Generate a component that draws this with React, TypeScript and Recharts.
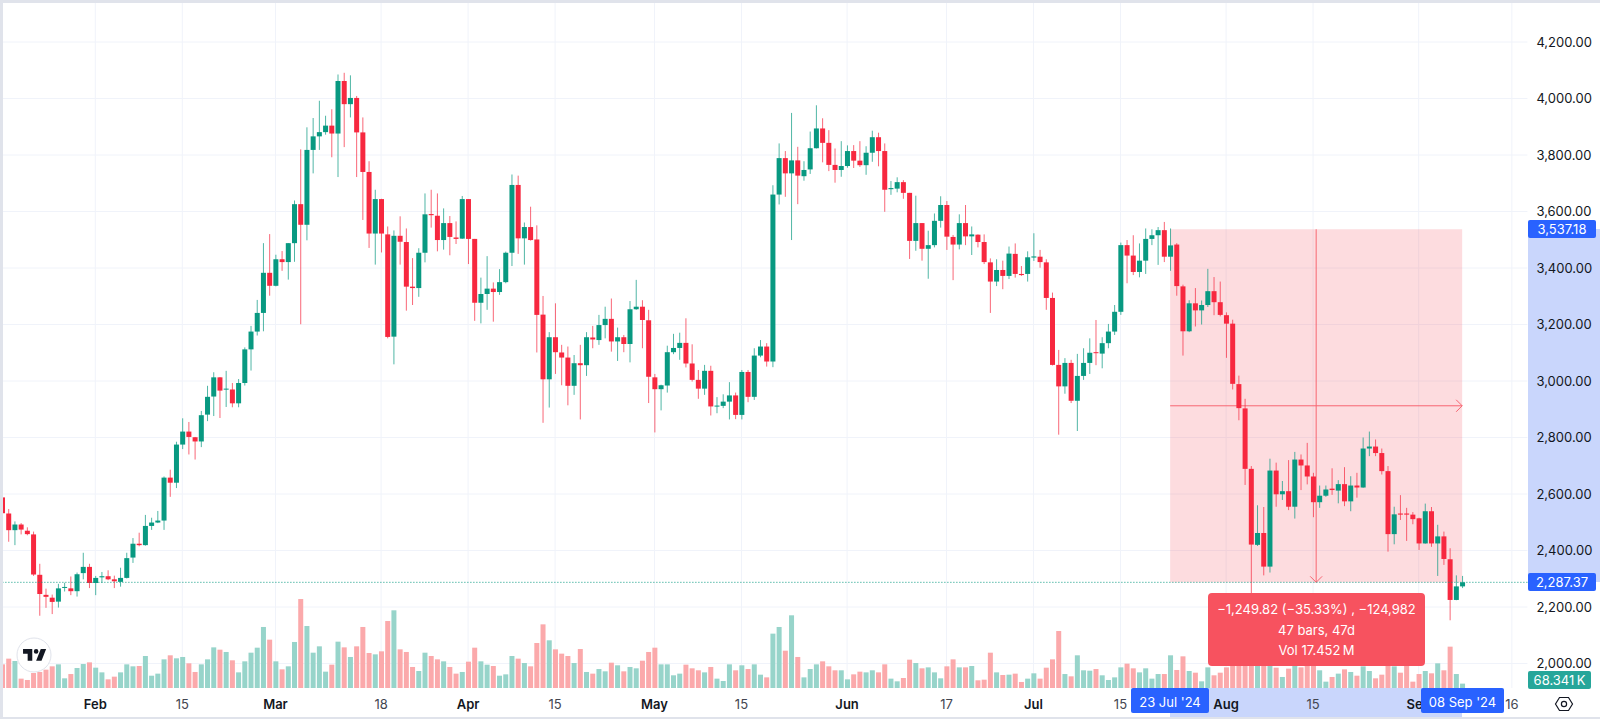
import { Bar, CartesianGrid, ComposedChart, ReferenceArea, ReferenceLine, XAxis, YAxis } from "recharts";

const opens = [
  2588,2531,2472,2492,2470,2457,2314,2243,2233,2219,2269,2266,2256,2320,2342,2285,2305,2309,2298,2289,
  2303,2375,2424,2419,2487,2499,2506,2658,2640,2775,2821,2801,2786,2881,2945,3013,2970,2970,2921,2993,
  3112,3175,3241,3383,3337,3431,3421,3488,3626,3553,3818,3866,3881,3904,3876,4062,3980,4002,3880,3740,
  3522,3644,3519,3157,3514,3492,3334,3329,3454,3591,3585,3499,3559,3508,3504,3644,3503,3277,3308,3327,
  3315,3350,3454,3694,3505,3545,3501,3235,3006,3155,3101,3083,2983,3063,3056,3154,3145,3198,3220,3140,
  3155,3131,3254,3263,3215,3013,2971,2984,3102,3117,3135,3062,3004,2973,3036,2910,2912,2927,2949,2880,
  3032,2944,3090,3122,3069,3660,3789,3735,3781,3725,3749,3824,3894,3843,3765,3747,3761,3814,3780,3764,
  3808,3863,3814,3679,3681,3704,3666,3496,3559,3468,3481,3567,3623,3510,3483,3559,3512,3518,3492,3420,
  3352,3393,3372,3450,3379,3379,3437,3440,3420,3294,3057,2981,3064,2930,3018,3064,3102,3097,3134,3175,
  3245,3481,3444,3386,3426,3503,3516,3534,3440,3483,3335,3176,3275,3250,3269,3318,3279,3233,3203,2989,
  2903,2689,2420,2462,2343,2683,2599,2610,2555,2722,2701,2662,2571,2594,2619,2612,2635,2574,2630,2623,
  2761,2768,2745,2681,2458,2531,2531,2527,2514,2425,2539,2425,2450,2369,2225,2273,
];
const closes = [
  2532,2472,2492,2474,2458,2315,2246,2236,2218,2266,2271,2256,2316,2342,2285,2303,2309,2298,2291,2303,
  2373,2424,2419,2487,2499,2506,2658,2640,2775,2821,2802,2786,2879,2944,3013,2966,2973,2921,2993,3112,
  3175,3241,3383,3337,3431,3421,3488,3626,3553,3818,3866,3881,3904,3876,4062,3980,4002,3880,3740,3522,
  3644,3522,3156,3514,3493,3334,3329,3454,3590,3587,3499,3559,3510,3503,3644,3503,3277,3308,3327,3315,
  3350,3454,3694,3505,3545,3499,3234,3006,3155,3102,3083,2983,3063,3056,3155,3147,3198,3220,3140,3155,
  3131,3254,3263,3216,3015,2971,2985,3102,3117,3135,3062,3004,2973,3036,2910,2913,2927,2949,2880,3032,
  2944,3090,3122,3069,3660,3789,3735,3781,3727,3747,3824,3894,3843,3765,3747,3761,3814,3780,3764,3808,
  3863,3814,3677,3683,3704,3666,3496,3559,3468,3481,3567,3623,3511,3483,3559,3512,3519,3492,3421,3352,
  3393,3372,3451,3379,3375,3438,3441,3421,3294,3057,2981,3064,2930,3018,3064,3100,3100,3134,3175,3245,
  3481,3444,3386,3426,3503,3516,3534,3440,3480,3336,3176,3275,3250,3269,3318,3279,3234,3203,2990,2904,
  2689,2421,2462,2343,2683,2599,2610,2555,2722,2701,2662,2571,2594,2616,2614,2635,2574,2630,2623,2761,
  2768,2745,2681,2458,2528,2527,2527,2511,2425,2539,2425,2450,2370,2225,2273,2287.37,
];
const highs = [
  2595,2547,2503,2497,2482,2467,2353,2265,2244,2282,2286,2308,2322,2392,2353,2310,2324,2330,2311,2339,
  2392,2444,2463,2526,2516,2540,2662,2686,2785,2868,2855,2802,2894,2983,3031,3014,3036,2993,3007,3119,
  3195,3287,3488,3520,3447,3460,3488,3639,3820,3898,3931,3992,3939,3962,4085,4091,4082,4009,3933,3778,
  3677,3645,3547,3533,3583,3540,3435,3470,3664,3677,3664,3611,3584,3565,3655,3644,3503,3366,3442,3349,
  3396,3458,3731,3727,3561,3617,3551,3301,3173,3275,3128,3122,3092,3128,3173,3195,3234,3263,3292,3189,
  3163,3283,3358,3286,3252,3025,2987,3125,3167,3171,3222,3130,3039,3057,3054,2943,2953,2996,2959,3039,
  3039,3116,3145,3134,3693,3841,3814,3949,3829,3778,3883,3976,3930,3888,3823,3849,3834,3835,3849,3831,
  3886,3879,3841,3708,3721,3711,3666,3656,3559,3532,3593,3654,3637,3517,3590,3623,3547,3519,3519,3434,
  3431,3426,3476,3487,3407,3459,3523,3464,3431,3313,3110,3081,3075,3096,3116,3151,3216,3155,3202,3269,
  3490,3499,3516,3487,3540,3537,3545,3563,3540,3488,3341,3286,3329,3285,3397,3368,3352,3243,3217,3019,
  2937,2699,2560,2554,2725,2711,2646,2720,2749,2740,2781,2675,2630,2630,2691,2649,2695,2663,2675,2800,
  2821,2793,2761,2699,2555,2596,2551,2536,2516,2566,2554,2491,2467,2408,2312,2310,
];
const lows = [
  2530,2431,2419,2457,2454,2310,2169,2197,2175,2198,2255,2242,2237,2298,2267,2242,2285,2295,2267,2272,
  2301,2356,2415,2417,2473,2497,2473,2590,2621,2759,2740,2722,2766,2858,2876,2869,2908,2907,2907,2984,
  3037,3161,3176,3302,3335,3390,3359,3422,3201,3498,3735,3818,3872,3792,3722,3828,3933,3722,3570,3471,
  3412,3455,3151,3059,3412,3249,3269,3298,3420,3543,3459,3465,3445,3485,3503,3414,3213,3204,3252,3210,
  3305,3346,3407,3450,3412,3497,3101,2852,2906,3025,2985,2914,2951,2864,3018,3116,3128,3151,3104,3071,
  3102,3066,3252,3116,2922,2818,2896,2959,3095,3075,3048,2998,2937,2951,2878,2886,2904,2864,2865,2864,
  2925,2933,3084,3051,3049,3625,3652,3499,3626,3709,3733,3823,3774,3743,3702,3723,3755,3754,3758,3730,
  3776,3760,3599,3659,3668,3645,3432,3461,3426,3362,3473,3543,3464,3357,3466,3481,3446,3473,3414,3241,
  3336,3325,3361,3366,3372,3352,3425,3401,3252,3055,2810,2955,2922,2823,3004,3025,3056,3045,3116,3163,
  3234,3346,3375,3367,3379,3481,3411,3421,3390,3302,3090,3173,3193,3200,3262,3233,3229,3082,2970,2861,
  2632,2130,2416,2312,2322,2555,2579,2543,2513,2614,2634,2518,2551,2590,2597,2567,2557,2539,2587,2622,
  2734,2734,2669,2396,2422,2508,2434,2493,2402,2424,2413,2310,2349,2153,2224,2267,
];
// volume in thousands
const volumes = [
  369,458,421,146,125,234,250,286,338,369,151,218,312,374,400,317,244,135,177,244,
  369,338,343,499,192,224,447,510,463,484,385,250,369,447,634,598,562,432,244,416,
  551,629,952,754,416,291,338,718,1388,967,551,650,255,364,723,634,484,650,952,546,
  525,572,1045,1212,603,562,328,265,551,499,447,416,328,224,250,411,629,416,364,343,
  192,213,499,458,390,338,702,993,744,603,536,499,390,608,250,224,296,260,395,354,
  260,328,307,426,562,629,369,369,198,224,364,307,276,244,328,146,109,369,276,354,
  296,369,208,166,848,952,582,1134,484,166,296,369,416,338,276,276,135,213,255,244,
  276,244,369,146,104,156,442,390,307,322,244,151,338,447,322,322,343,120,130,551,
  244,203,208,224,94,146,229,146,317,447,889,218,182,510,276,270,296,198,125,166,
  322,380,307,244,307,146,218,218,510,281,494,265,239,104,322,198,239,322,354,432,
  458,1400,343,380,354,317,172,302,354,322,354,354,276,99,172,224,291,250,192,338,
  265,151,208,406,338,239,354,99,218,265,229,385,276,645,218,68.341,
];
const priceTicks = [2000, 2200, 2400, 2600, 2800, 3000, 3200, 3400, 3600, 3800, 4000, 4200];
const dateTicks = ["2024-02-01", "2024-02-15", "2024-03-01", "2024-03-18", "2024-04-01", "2024-04-15", "2024-05-01", "2024-05-15", "2024-06-01", "2024-06-17", "2024-07-01", "2024-07-15", "2024-08-01", "2024-08-15", "2024-09-01", "2024-09-16"];
const dateTickLabels = ["Feb", "15", "Mar", "18", "Apr", "15", "May", "15", "Jun", "17", "Jul", "15", "Aug", "15", "Sep", "16"];

const measureStart = "2024-07-23";
const measureEnd = "2024-09-08";
const measureTop = 3537.18;
const lastPrice = 2287.37;

const UP = "#089981";
const DOWN = "#f7283f";
const FONT = "Inter, sans-serif";
const BAND = 6.213;
const EMPTY_DAYS = 10;

// one row per day, plus a few empty days on the right of the last bar
const dayStart = Date.UTC(2024, 0, 17);
const rows = Array.from({ length: opens.length + EMPTY_DAYS }, (_, i) => ({
  date: new Date(dayStart + i * 86400000).toISOString().slice(0, 10),
  open: opens[i],
  high: highs[i],
  low: lows[i],
  close: closes[i],
  volume: volumes[i],
}));

function Candle(props: any) {
  const { x, y, width, height, payload } = props;
  if (payload.open == null || !height) return null;
  const top = Math.min(y, y + height);
  const h = Math.abs(height);
  const perUnit = h / (payload.high - payload.low);
  const up = payload.close >= payload.open;
  const color = up ? UP : DOWN;
  const bodyTop = top + (payload.high - Math.max(payload.open, payload.close)) * perUnit;
  const bodyH = Math.max(Math.abs(payload.close - payload.open) * perUnit, 1);
  const cx = x + width / 2;
  return (
    <g>
      <line x1={cx} x2={cx} y1={top} y2={top + h} stroke={color} strokeWidth={1} opacity={0.7} />
      <rect x={x} y={bodyTop} width={width} height={bodyH} fill={color} />
    </g>
  );
}

function VolumeBar(props: any) {
  const { x, y, width, height, payload } = props;
  if (payload.open == null) return null;
  const fill = payload.close >= payload.open ? "#97d4ca" : "#fba9ab";
  return <rect x={x} y={y} width={width} height={height} fill={fill} />;
}

// the measure tool: shaded box with its two arrows
function MeasureBox(props: any) {
  const x = props.x + BAND / 2;
  const w = props.width - BAND;
  const { y, height: h } = props;
  const cx = x + w / 2;
  const cy = y + h / 2;
  const line = "#f7525f";
  return (
    <g>
      <rect x={x} y={y} width={w} height={h} fill="#f7525f" fillOpacity={0.2} />
      <g stroke={line} strokeWidth={1} fill="none" opacity={0.85}>
        <path d={`M${x} ${cy}H${x + w}`} />
        <path d={`M${x + w - 6} ${cy - 6}L${x + w} ${cy}L${x + w - 6} ${cy + 6}`} />
        <path d={`M${cx} ${y}V${y + h}`} />
        <path d={`M${cx - 6} ${y + h - 6}L${cx} ${y + h}L${cx + 6} ${y + h - 6}`} />
      </g>
    </g>
  );
}

function DateTick(props: any) {
  const { x, y, payload } = props;
  const label = dateTickLabels[dateTicks.indexOf(payload.value)];
  const isMonth = isNaN(Number(label));
  return (
    <text x={x} y={y + 10} textAnchor="middle" dominantBaseline="central" fontFamily={FONT} fontSize={13} fontWeight={isMonth ? 600 : 400} fill={isMonth ? "#131722" : "#434651"}>
      {label}
    </text>
  );
}

function Pill({ left, top, width, height, bg, text, shift = 0 }: any) {
  return (
    <div style={{ position: "absolute", left, top, width, height, lineHeight: `${height + shift}px`, background: bg, color: "#fff", fontFamily: FONT, fontSize: 13, textAlign: "center", borderRadius: 2 }}>
      {text}
    </div>
  );
}

export default function App() {
  return (
    <div style={{ position: "absolute", left: 0, top: 0, width: 1600, height: 719, overflow: "hidden", background: "#fff" }}>
      {/* selection bands on the two axes */}
      <div style={{ position: "absolute", left: 1528, top: 229, width: 72, height: 353, background: "#c9d6fc" }} />
      <div style={{ position: "absolute", left: 1170, top: 688, width: 292, height: 29, background: "#c9d6fc" }} />

      <div style={{ position: "absolute", left: -1, top: 0 }}>
        <ComposedChart width={1600} height={719} data={rows} margin={{ top: 0, right: 0, bottom: 0, left: 0 }} barCategoryGap={0}>
          <CartesianGrid stroke="#f0f3fa" strokeWidth={1} xAxisId="price" yAxisId="price" syncWithTicks />
          <XAxis xAxisId="price" dataKey="date" ticks={dateTicks} interval={0} height={31} tickLine={false} axisLine={false} tick={<DateTick />} tickMargin={0} />
          <XAxis xAxisId="volume" dataKey="date" hide />
          <YAxis
            yAxisId="price"
            orientation="right"
            width={71.6}
            type="number"
            domain={[1913.3, 4348.7]}
            allowDataOverflow
            ticks={priceTicks}
            interval={0}
            tickLine={false}
            axisLine={false}
            tickSize={0}
            tickMargin={9}
            tick={{ fontFamily: FONT, fontSize: 13, fill: "#131722" }}
            tickFormatter={(v: number) => v.toLocaleString("en-US", { minimumFractionDigits: 2, maximumFractionDigits: 2 })}
          />
          <YAxis yAxisId="volume" orientation="right" hide type="number" domain={[0, 10733]} allowDataOverflow />
          <Bar xAxisId="volume" yAxisId="volume" dataKey="volume" barSize={5} shape={<VolumeBar />} isAnimationActive={false} />
          <Bar
            xAxisId="price"
            yAxisId="price"
            dataKey={(d: any) => (d.open == null ? null : [d.low, d.high])}
            barSize={5}
            shape={<Candle />}
            isAnimationActive={false}
          />
          <ReferenceLine xAxisId="price" yAxisId="price" y={lastPrice} stroke={UP} strokeDasharray="1 2" strokeWidth={1} />
          <ReferenceArea xAxisId="price" yAxisId="price" x1={measureStart} x2={measureEnd} y1={lastPrice} y2={measureTop} shape={<MeasureBox />} />
        </ComposedChart>
      </div>

      {/* frame */}
      <div style={{ position: "absolute", left: 0, top: 0, width: 3, height: 719, background: "#e0e3eb" }} />
      <div style={{ position: "absolute", left: 0, top: 0, width: 1600, height: 3, background: "#e0e3eb" }} />
      <div style={{ position: "absolute", left: 0, top: 717, width: 1600, height: 2, background: "#e0e3eb" }} />

      {/* measure label */}
      <div style={{ position: "absolute", left: 1208, top: 593, width: 217, height: 73, background: "#f7525f", borderRadius: 4, color: "#fff", fontFamily: FONT, fontSize: 13, textAlign: "center", lineHeight: "20.5px", paddingTop: 6, boxSizing: "border-box" }}>
        <div>−1,249.82 (−35.33%) , −124,982</div>
        <div>47 bars, 47d</div>
        <div>Vol 17.452{"\u202f"}M</div>
      </div>

      <Pill left={1528} top={220} width={68} height={18} bg="#2962ff" text="3,537.18" />
      <Pill left={1528} top={573} width={68} height={18} bg="#2962ff" text="2,287.37" />
      <Pill left={1528} top={671} width={63} height={18} bg="#26a69a" text={"68.341\u202fK"} />
      <Pill left={1131} top={688} width={78} height={25} bg="#2962ff" text="23 Jul '24" shift={4} />
      <Pill left={1421} top={688} width={83} height={25} bg="#2962ff" text="08 Sep '24" shift={4} />

      {/* TradingView mark */}
      <svg style={{ position: "absolute", left: 16, top: 637 }} width={36} height={36} viewBox="0 0 36 36">
        <circle cx={18} cy={18} r={17} fill="#fff" stroke="#e0e3eb" />
        <g transform="translate(5.5 7.5) scale(0.77)">
          <path fill="#131722" d="M14 6H2v6h6v9h6V6zm12 15h-7l6-15h7l-6 15zm-7-9a3 3 0 1 0 0-6 3 3 0 0 0 0 6z" />
        </g>
      </svg>

      {/* settings icon */}
      <svg style={{ position: "absolute", left: 1554, top: 695 }} width={20} height={18} viewBox="0 0 20 18">
        <path d="M5.5 2.5h9L18.5 9l-4 6.5h-9L1.5 9z" fill="none" stroke="#131722" strokeWidth={1.2} />
        <circle cx={10} cy={9} r={2.6} fill="none" stroke="#131722" strokeWidth={1.2} />
      </svg>
    </div>
  );
}
